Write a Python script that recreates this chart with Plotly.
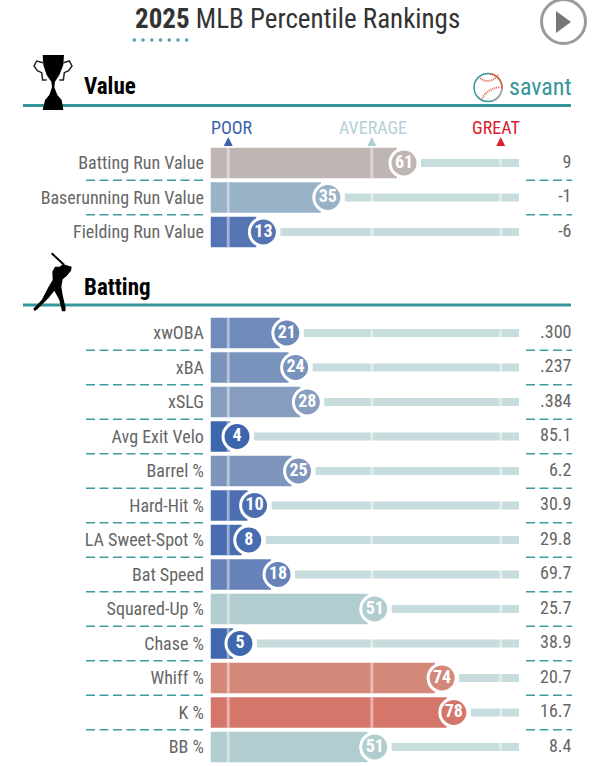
import plotly.graph_objects as go

value_names = ["Batting Run Value", "Baserunning Run Value", "Fielding Run Value"]
value_pct = [61, 35, 13]
value_stats = ["9", "-1", "-6"]

batting_names = ["xwOBA", "xBA", "xSLG", "Avg Exit Velo", "Barrel %", "Hard-Hit %", "LA Sweet-Spot %",
                 "Bat Speed", "Squared-Up %", "Chase %", "Whiff %", "K %", "BB %"]
batting_pct = [21, 24, 28, 4, 25, 10, 8, 18, 51, 5, 74, 78, 51]
batting_stats = [".300", ".237", ".384", "85.1", "6.2", "30.9", "29.8", "69.7", "25.7", "38.9", "20.7", "16.7", "8.4"]

ref_marks = [1, 50, 94]
ref_labels = ["POOR", "AVERAGE", "GREAT"]
ref_colors = ["#3a5fad", "#b5d0d5", "#d8202e"]

W = 595
H = 766
FONT = "Roboto Condensed, Roboto, sans-serif"
TEAL = "#35959a"
TRACK = "#c7dcdc"

colorscale = [[0, "#3260ac"], [0.13, "#5574b3"], [0.28, "#889ec1"], [0.35, "#98b2c8"], [0.51, "#b2cdd0"],
              [0.61, "#bfb6b3"], [0.74, "#d38879"], [0.78, "#d5766a"], [1, "#d8202e"]]


# pixel helpers, everything decorative is placed in page pixels
def px(x):
    return x / W


def py(y):
    return 1 - y / H


def path(points, close=True):
    s = "M " + " L ".join(f"{px(x)},{py(y)}" for x, y in points)
    return s + " Z" if close else s


def curve(x0, y0, cx, cy, x1, y1):
    return f"M {px(x0)},{py(y0)} Q {px(cx)},{py(cy)} {px(x1)},{py(y1)}"


# percentile scale: 2.93 px per point, 0 at 225.3 px
SCALE = 2.93
X_ZERO = 225.3
BAR_LEFT = (210.5 - X_ZERO) / SCALE
TRACK_END = (519 - X_ZERO) / SCALE
STAT_X = (571.5 - X_ZERO) / SCALE

fig = go.Figure()


def add_section(yaxis, names, pct, stats):
    fig.add_trace(go.Bar(y=names, x=[p - 2.4 - BAR_LEFT for p in pct], base=BAR_LEFT, orientation="h", width=0.884,
                         marker=dict(color=pct, colorscale=colorscale, cmin=0, cmax=100, line_width=0),
                         yaxis=yaxis, showlegend=False))
    fig.add_trace(go.Bar(y=names, x=[TRACK_END - p - 5.8 for p in pct], base=[p + 5.8 for p in pct], orientation="h",
                         width=0.232, marker=dict(color=TRACK, line_width=0), yaxis=yaxis, showlegend=False))
    for m in ref_marks:
        fig.add_trace(go.Bar(y=names, x=[1] * len(names), base=m - 0.5, orientation="h", width=0.884,
                             marker=dict(color="rgba(255,255,255,0.45)", line_width=0), yaxis=yaxis, showlegend=False))
    fig.add_trace(go.Scatter(y=names, x=pct, mode="markers+text", text=[str(p) for p in pct],
                             textposition="middle center", textfont=dict(family=FONT, size=18, color="white", weight="bold"),
                             marker=dict(size=28, color=pct, colorscale=colorscale, cmin=0, cmax=100,
                                         line=dict(color="white", width=3), opacity=1),
                             cliponaxis=False, yaxis=yaxis, showlegend=False))
    fig.add_trace(go.Scatter(y=names, x=[STAT_X] * len(names), mode="text", text=stats, textposition="middle left",
                             textfont=dict(family=FONT, size=18, color="#666666"), cliponaxis=False,
                             yaxis=yaxis, showlegend=False))
    # dashed separators between rows
    yref = yaxis
    for i in range(len(names) - 1):
        for x0, x1 in [(86, 203), (526, 572)]:
            fig.add_shape(type="line", xref="paper", yref=yref, x0=px(x0), x1=px(x1), y0=i + 0.5, y1=i + 0.5,
                          line=dict(color="#3f9ba1", width=1.3, dash="9px,4.5px"))


add_section("y", value_names, value_pct, value_stats)
add_section("y2", batting_names, batting_pct, batting_stats)

ROW = 34.5
val_top = 163 - ROW / 2
bat_top = 333 - ROW / 2

axis_style = dict(type="category", showgrid=False, zeroline=False, showline=False, anchor="x", ticks="outside",
                  ticklen=2, tickcolor="rgba(0,0,0,0)", tickfont=dict(family=FONT, size=18, color="#666666"))

fig.update_layout(
    width=W, height=H, margin=dict(l=0, r=0, t=0, b=0), barmode="overlay", plot_bgcolor="white", paper_bgcolor="white",
    xaxis=dict(domain=[px(210.5), 1], range=[BAR_LEFT, (W - X_ZERO) / SCALE], visible=False, anchor="y"),
    yaxis=dict(domain=[py(val_top + 3 * ROW), py(val_top)], range=[2.5, -0.5], **axis_style),
    yaxis2=dict(domain=[py(bat_top + 13 * ROW), py(bat_top)], range=[12.5, -0.5], **axis_style),
)

fig.add_annotation(text="<b>2025</b> MLB Percentile Rankings", xref="paper", yref="paper", x=px(132.5), y=py(19),
                   xanchor="left", yanchor="middle", showarrow=False, font=dict(family=FONT, size=27, color="#333333"))
for i in range(7):
    cx = 134.3 + i * 8.73
    fig.add_shape(type="circle", xref="paper", yref="paper", x0=px(cx - 1.8), x1=px(cx + 1.8), y0=py(40 + 1.8),
                  y1=py(40 - 1.8), fillcolor="#4fa3ab", line_width=0)

# play button
fig.add_shape(type="circle", xref="paper", yref="paper", x0=px(541.5), x1=px(585.5), y0=py(43.5), y1=py(-0.5),
              line=dict(color="#9a9a9a", width=3), fillcolor="white")
fig.add_shape(type="path", xref="paper", yref="paper", path=path([(556, 11), (571, 22), (556, 33)]),
              fillcolor="#777777", line_width=0)

# section headers
for title, rule_y, text_y in [("Value", 105.5, 87), ("Batting", 305, 287)]:
    fig.add_shape(type="line", xref="paper", yref="paper", x0=px(23), x1=px(571), y0=py(rule_y), y1=py(rule_y),
                  line=dict(color=TEAL, width=3))
    fig.add_annotation(text=f"<b>{title}</b>", xref="paper", yref="paper", x=px(81.5), y=py(text_y), xanchor="left",
                       yanchor="middle", showarrow=False, font=dict(family=FONT, size=23, color="black"))

# trophy
trophy = [(128, 165), (192, 165), (190, 195), (178, 225), (165, 245), (163, 262), (172, 285), (185, 300), (190, 330),
          (128, 330), (135, 300), (148, 285), (156, 262), (154, 245), (140, 225), (130, 195)]
fig.add_shape(type="path", xref="paper", yref="paper", path=path([(x / 3, y / 3) for x, y in trophy]),
              fillcolor="black", line_width=0)
handle_l = [(130, 188), (110, 183), (102, 198), (112, 212), (125, 218), (128, 240), (140, 240)]
handle_r = [(190, 188), (208, 183), (216, 198), (206, 212), (193, 218), (190, 240), (178, 240)]
for handle in [handle_l, handle_r]:
    fig.add_shape(type="path", xref="paper", yref="paper", path=path([(x / 3, y / 3) for x, y in handle], close=False),
                  line=dict(color="#222222", width=1.5))

# batter
batter = [(190, 42), (200, 46), (215, 50), (213, 62), (200, 78), (188, 88), (184, 110), (188, 135), (197, 175),
          (196, 184), (186, 184), (178, 150), (163, 122), (145, 145), (112, 178), (104, 183), (100, 176), (125, 150),
          (145, 112), (158, 90), (157, 65), (165, 50), (178, 50)]
fig.add_shape(type="path", xref="paper", yref="paper", path=path([(x / 3, 250 + y / 3) for x, y in batter]),
              fillcolor="black", line_width=0)
fig.add_shape(type="line", xref="paper", yref="paper", x0=px(155 / 3), y0=py(250 + 10 / 3), x1=px(192 / 3),
              y1=py(250 + 44 / 3), line=dict(color="black", width=2))

# savant logo
fig.add_shape(type="circle", xref="paper", yref="paper", x0=px(474), x1=px(502), y0=py(101.5), y1=py(73.5),
              line=dict(color=TEAL, width=1.5))
fig.add_shape(type="path", xref="paper", yref="paper", path=curve(490, 73.7, 502, 76, 502, 89),
              line=dict(color="#e8603c", width=1.5))
fig.add_shape(type="path", xref="paper", yref="paper", path=curve(502, 89, 500, 99, 492, 101.3),
              line=dict(color="#a8a8a8", width=1.5))
fig.add_shape(type="path", xref="paper", yref="paper", path=curve(480, 78.3, 490, 85, 498.3, 75),
              line=dict(color="#e8603c", width=2, dash="1px,1px"))
fig.add_shape(type="path", xref="paper", yref="paper", path=curve(482.3, 98.3, 488, 88, 500, 87.3),
              line=dict(color="#e8603c", width=2, dash="1px,1px"))
fig.add_annotation(text="savant", xref="paper", yref="paper", x=px(574), y=py(87), xanchor="right", yanchor="middle",
                   showarrow=False, font=dict(family=FONT, size=24, color="#35959a"))

# scale markers above the first section
for mark, label, color, label_x in zip(ref_marks, ref_labels, ref_colors, [231.5, 372.5, 495.5]):
    tip = X_ZERO + mark * SCALE
    fig.add_annotation(text=label, xref="paper", yref="paper", x=px(label_x), y=py(127), xanchor="center",
                       yanchor="middle", showarrow=False, font=dict(family=FONT, size=18, color=color))
    fig.add_shape(type="path", xref="paper", yref="paper",
                  path=path([(tip - 4.5, 146), (tip, 137), (tip + 4.5, 146)]), fillcolor=color, line_width=0)

fig.write_html("out.html", post_script="document.body.style.margin='0';document.body.style.overflow='hidden';",
               config={"displayModeBar": False})
